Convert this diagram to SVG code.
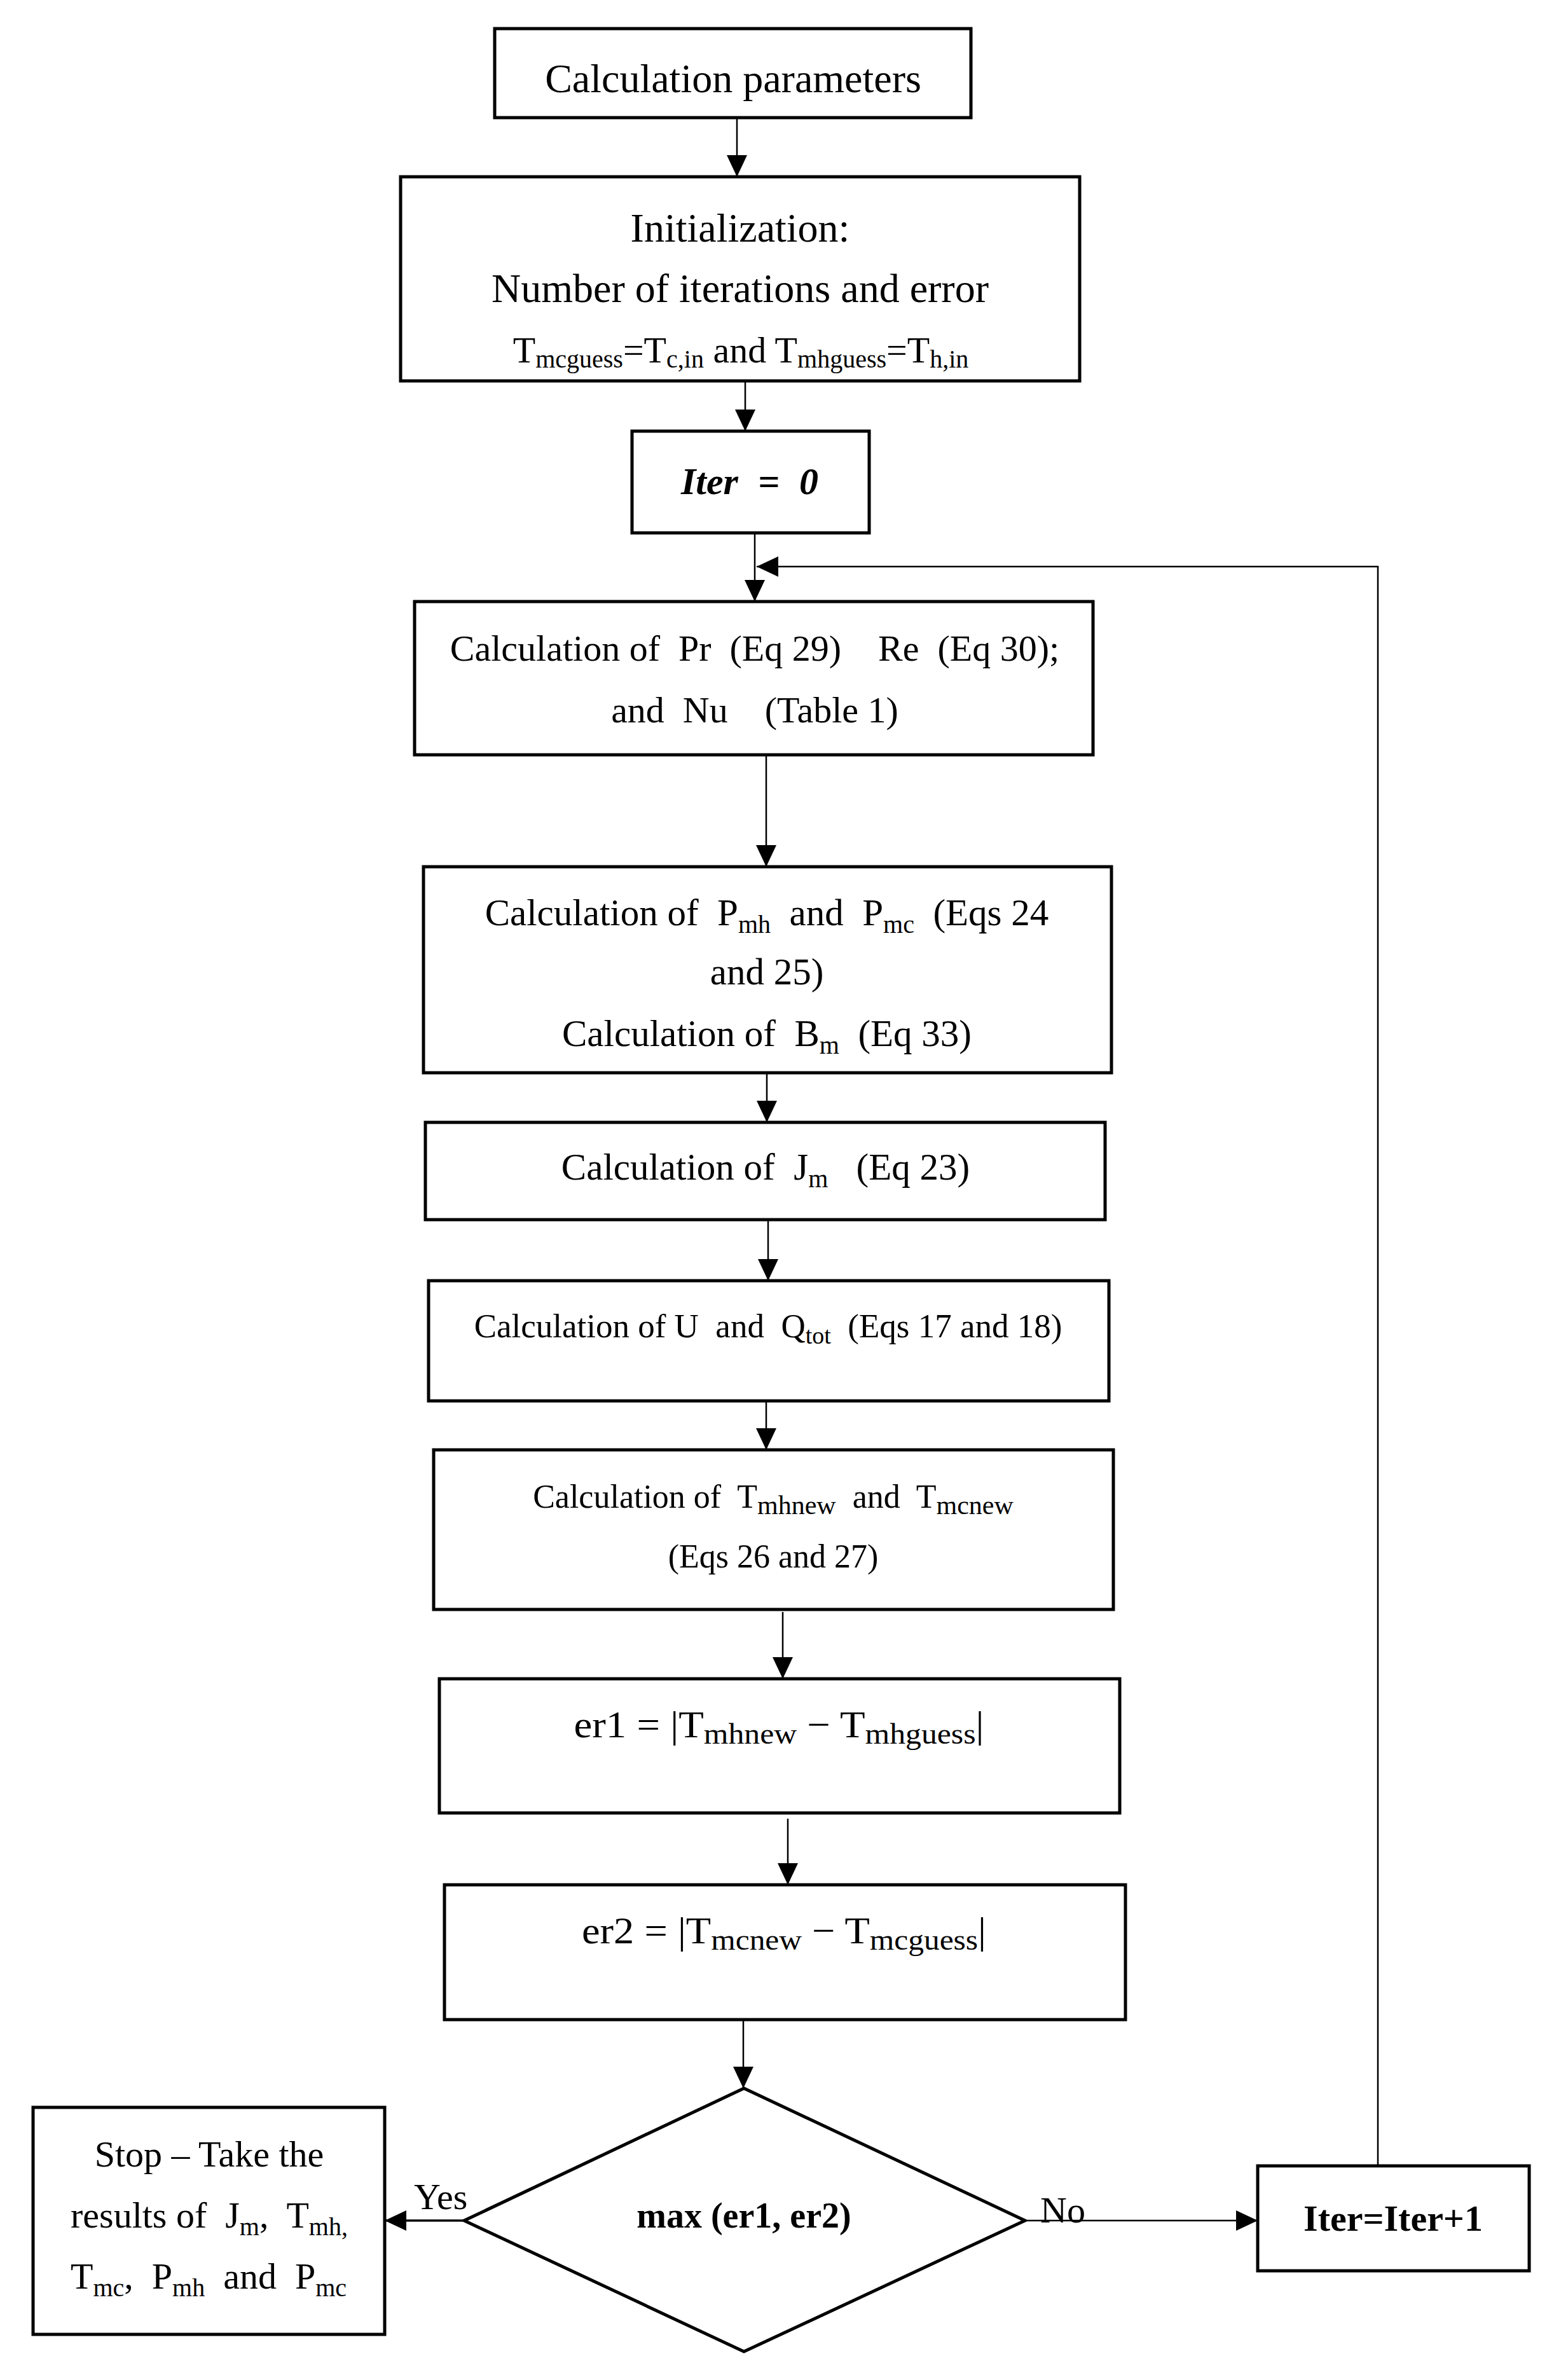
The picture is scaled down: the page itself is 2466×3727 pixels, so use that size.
<svg xmlns="http://www.w3.org/2000/svg" width="2466" height="3727" viewBox="0 0 2466 3727">
<style>
.box{fill:#fff;stroke:#000;stroke-width:5}
.ln{fill:none;stroke:#000;stroke-width:2.5}
.lh{fill:none;stroke:#000;stroke-width:3.5}
text{font-family:"Liberation Serif","Times New Roman",serif;fill:#000;text-anchor:middle;font-size:58px}
.s{font-size:40px}
.b{font-weight:bold}
</style>
<defs>
<marker id="ah" markerUnits="userSpaceOnUse" markerWidth="34" markerHeight="32" refX="34" refY="16" orient="auto">
<path d="M0,0 L34,16 L0,32 z" fill="#000"/>
</marker>
</defs>
<rect width="2466" height="3727" fill="#fff"/>
<g id="connectors">
<line class="ln" x1="1159" y1="185" x2="1159" y2="278" marker-end="url(#ah)"/>
<line class="ln" x1="1172" y1="582" x2="1172" y2="678" marker-end="url(#ah)"/>
<line class="ln" x1="1187" y1="839" x2="1187" y2="946" marker-end="url(#ah)"/>
<polyline class="ln" points="2167,3406 2167,891 1190,891" marker-end="url(#ah)"/>
<line class="ln" x1="1205" y1="1187" x2="1205" y2="1363" marker-end="url(#ah)"/>
<line class="ln" x1="1206" y1="1687" x2="1206" y2="1765" marker-end="url(#ah)"/>
<line class="ln" x1="1208" y1="1918" x2="1208" y2="2014" marker-end="url(#ah)"/>
<line class="ln" x1="1205" y1="2203" x2="1205" y2="2280" marker-end="url(#ah)"/>
<line class="ln" x1="1231" y1="2535" x2="1231" y2="2640" marker-end="url(#ah)"/>
<line class="ln" x1="1239" y1="2860" x2="1239" y2="2964" marker-end="url(#ah)"/>
<line class="ln" x1="1169" y1="3178" x2="1169" y2="3284" marker-end="url(#ah)"/>
<line class="lh" x1="730" y1="3492" x2="605" y2="3492" marker-end="url(#ah)"/>
<line class="ln" x1="1612" y1="3492" x2="1978" y2="3492" marker-end="url(#ah)"/>
<text x="651" y="3474" style="text-anchor:start">Yes</text>
<text x="1636" y="3495" style="text-anchor:start">No</text>
</g>
<g id="n1">
<rect class="box" x="778" y="45" width="749" height="140"/>
<text x="1153" y="145" style="font-size:64px">Calculation parameters</text>
</g>
<g id="n2">
<rect class="box" x="630" y="278" width="1068" height="321"/>
<text x="1164" y="380" style="font-size:64px">Initialization:</text>
<text x="1164" y="475" style="font-size:64px">Number of iterations and error</text>
<text x="1165" y="570">T<tspan class="s" dy="8">mcguess</tspan><tspan dy="-8">=T</tspan><tspan class="s" dy="8">c,in</tspan><tspan dy="-8"> and T</tspan><tspan class="s" dy="8">mhguess</tspan><tspan dy="-8">=T</tspan><tspan class="s" dy="8">h,in</tspan></text>
</g>
<g id="n3">
<rect class="box" x="994" y="678" width="373" height="160"/>
<text x="1179" y="777" class="b" style="font-style:italic;font-size:60px;word-spacing:16px">Iter = 0</text>
</g>
<g id="n4">
<rect class="box" x="652" y="946" width="1067" height="241"/>
<text x="1187" y="1039" xml:space="preserve">Calculation of  Pr  (Eq 29)    Re  (Eq 30);</text>
<text x="1187" y="1136" xml:space="preserve">and  Nu    (Table 1)</text>
</g>
<g id="n5">
<rect class="box" x="666" y="1363" width="1082" height="324"/>
<text x="1206" y="1455" xml:space="preserve" style="font-size:59px">Calculation of  P<tspan class="s" dy="12">mh</tspan><tspan dy="-12">  and  P</tspan><tspan class="s" dy="12">mc</tspan><tspan dy="-12">  (Eqs 24</tspan></text>
<text x="1206" y="1548" style="font-size:59px">and 25)</text>
<text x="1206" y="1645" xml:space="preserve" style="font-size:59px">Calculation of  B<tspan class="s" dy="12">m</tspan><tspan dy="-12">  (Eq 33)</tspan></text>
</g>
<g id="n6">
<rect class="box" x="669" y="1765" width="1069" height="153"/>
<text x="1204" y="1855" xml:space="preserve" style="font-size:59px">Calculation of  J<tspan class="s" dy="12">m</tspan><tspan dy="-12">   (Eq 23)</tspan></text>
</g>
<g id="n7">
<rect class="box" x="674" y="2014" width="1070" height="189"/>
<text x="1208" y="2103" xml:space="preserve" style="font-size:53px">Calculation of U  and  Q<tspan class="s" style="font-size:38px" dy="10">tot</tspan><tspan dy="-10">  (Eqs 17 and 18)</tspan></text>
</g>
<g id="n8">
<rect class="box" x="682" y="2280" width="1069" height="251"/>
<text x="1216" y="2371" xml:space="preserve" style="font-size:52px">Calculation of  T<tspan class="s" style="font-size:42px" dy="10">mhnew</tspan><tspan dy="-10">  and  T</tspan><tspan class="s" style="font-size:42px" dy="10">mcnew</tspan></text>
<text x="1216" y="2465" style="font-size:52px">(Eqs 26 and 27)</text>
</g>
<g id="n9">
<rect class="box" x="691" y="2640" width="1070" height="211"/>
<text x="1225" y="2732" style="font-size:60px" textLength="645" lengthAdjust="spacingAndGlyphs">er1 = |T<tspan class="s" style="font-size:46px" dy="10">mhnew</tspan><tspan dy="-10"> − T</tspan><tspan class="s" style="font-size:46px" dy="10">mhguess</tspan><tspan dy="-10">|</tspan></text>
</g>
<g id="n10">
<rect class="box" x="699" y="2964" width="1071" height="212"/>
<text x="1233" y="3056" style="font-size:60px" textLength="636" lengthAdjust="spacingAndGlyphs">er2 = |T<tspan class="s" style="font-size:46px" dy="10">mcnew</tspan><tspan dy="-10"> − T</tspan><tspan class="s" style="font-size:46px" dy="10">mcguess</tspan><tspan dy="-10">|</tspan></text>
</g>
<g id="n11">
<polygon class="box" points="1170,3284 1612,3492 1170,3698 730,3492"/>
<text x="1170" y="3503" class="b" style="font-size:56px">max (er1, er2)</text>
</g>
<g id="n12">
<rect class="box" x="52" y="3314" width="553" height="357"/>
<text x="329" y="3407">Stop – Take the</text>
<text x="329" y="3503" xml:space="preserve">results of  J<tspan class="s" dy="12">m</tspan><tspan dy="-12">,  T</tspan><tspan class="s" dy="12">mh,</tspan></text>
<text x="328" y="3599" xml:space="preserve">T<tspan class="s" dy="12">mc</tspan><tspan dy="-12">,  P</tspan><tspan class="s" dy="12">mh</tspan><tspan dy="-12">  and  P</tspan><tspan class="s" dy="12">mc</tspan></text>
</g>
<g id="n13">
<rect class="box" x="1978" y="3406" width="427" height="165"/>
<text x="2191" y="3508" class="b">Iter=Iter+1</text>
</g>
</svg>
